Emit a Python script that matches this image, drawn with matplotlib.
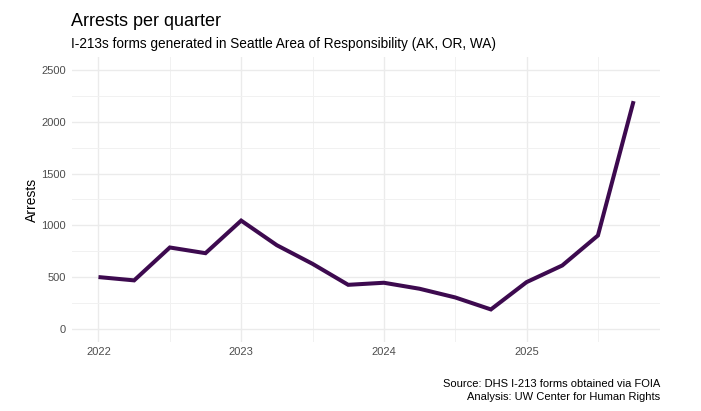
import matplotlib
matplotlib.use("Agg")
import matplotlib.pyplot as plt
from matplotlib.ticker import MultipleLocator

quarters = [2022.0, 2022.25, 2022.5, 2022.75, 2023.0, 2023.25, 2023.5, 2023.75,
            2024.0, 2024.25, 2024.5, 2024.75, 2025.0, 2025.25, 2025.5, 2025.75]
arrests = [500, 468, 786, 731, 1046, 808, 628, 425,
           445, 387, 303, 187, 451, 612, 902, 2201]
year_ticks = [2022, 2023, 2024, 2025]
y_ticks = [0, 500, 1000, 1500, 2000, 2500]

plt.rcParams['font.family'] = ['Liberation Sans', 'DejaVu Sans']

fig = plt.figure(figsize=(7.01, 4.11), dpi=100)
ax = fig.add_axes([0.1023, 0.1686, 0.942 - 0.1023, 0.8606 - 0.1686])

ax.plot(quarters, arrests, color='#3d0a4f', lw=2.9, solid_capstyle='butt',
        solid_joinstyle='miter', zorder=3)

ax.set_xlim(2021.8125, 2025.9375)
ax.set_ylim(-125, 2625)
ax.set_xticks(year_ticks)
ax.set_xticklabels([str(y) for y in year_ticks])
ax.set_yticks(y_ticks)
ax.xaxis.set_minor_locator(MultipleLocator(0.5))
ax.yaxis.set_minor_locator(MultipleLocator(250))

ax.grid(which='major', color='#EBEBEB', lw=1.0, zorder=0)
ax.grid(which='minor', color='#F1F1F1', lw=0.7, zorder=0)
for s in ax.spines.values():
    s.set_visible(False)
ax.tick_params(which='both', length=0)
ax.tick_params(axis='both', labelsize=8, labelcolor='#4D4D4D', pad=4)
ax.set_ylabel('Arrests', fontsize=10, color='black', labelpad=2)

fig.text(71 / 701, 1 - 22 / 411, 'Arrests per quarter', fontsize=13,
         ha='left', va='center', color='black')
fig.text(71 / 701, 1 - 44 / 411,
         'I-213s forms generated in Seattle Area of Responsibility (AK, OR, WA)',
         fontsize=9.8, ha='left', va='center', color='black')
fig.text(660 / 701, 1 - 384 / 411, 'Source: DHS I-213 forms obtained via FOIA',
         fontsize=8, ha='right', va='center', color='black')
fig.text(660 / 701, 1 - 397 / 411, 'Analysis: UW Center for Human Rights',
         fontsize=8, ha='right', va='center', color='black')

fig.savefig('out.png', dpi=100, facecolor='white')
